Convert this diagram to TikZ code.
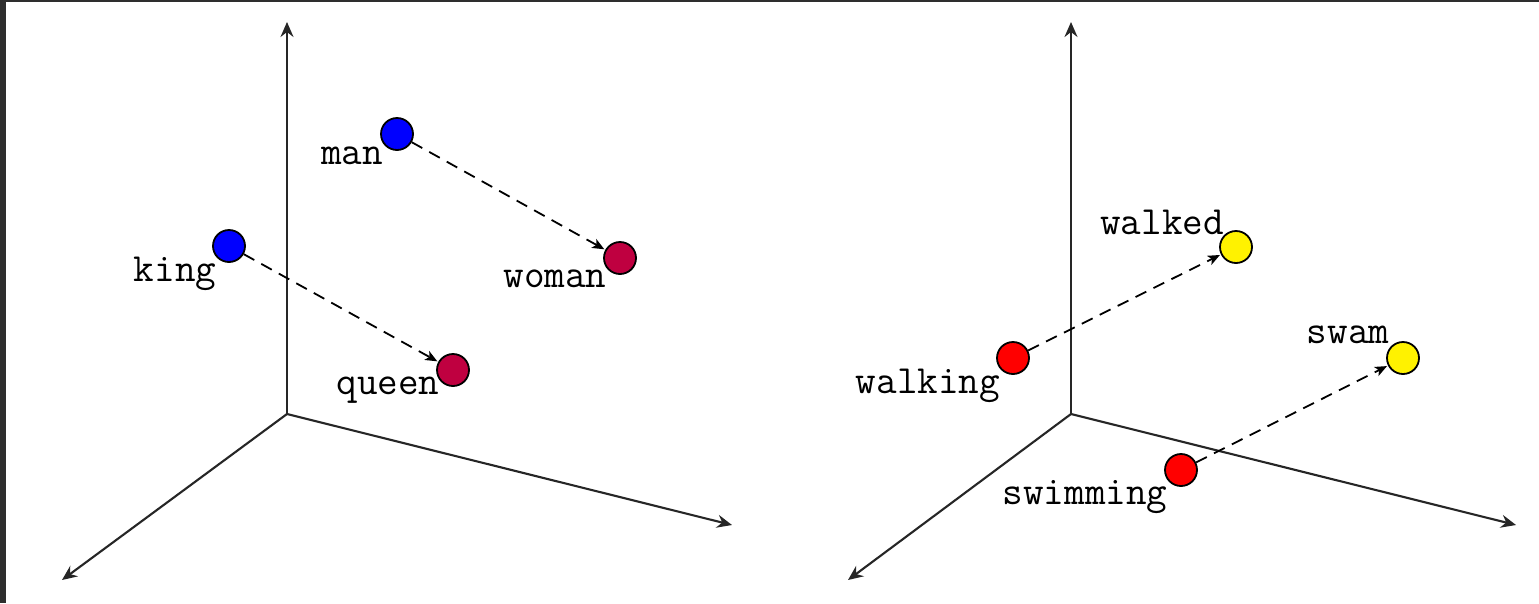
\documentclass[tikz,border=0pt]{standalone}
\usetikzlibrary{arrows.meta}
\begin{document}
\begin{tikzpicture}[x=1pt,y=-1pt,
  axis/.style={line width=2.1pt,draw=black!85,-{Stealth[length=15pt,width=13pt,inset=5pt]}},
  dot/.style={circle,draw=black,line width=1.8pt,minimum size=32pt,inner sep=0pt},
  lbl/.style={font=\fontsize{40}{42}\selectfont\ttfamily,inner sep=0pt},
  vec/.style={line width=1.8pt,dash pattern=on 12pt off 8pt,-{Stealth[length=12pt,width=10pt,inset=3pt]},shorten >=1pt}]
\fill[black!82] (0,0) rectangle (1539,603);
\fill[white] (6,2) rectangle (1539,603);
\useasboundingbox (0,0) rectangle (1539,603);
% left axes
\coordinate (O1) at (287,414);
\coordinate (Y1) at (287,22);
\coordinate (X1) at (62,580);
\coordinate (Z1) at (732,525);
\draw[axis] (O1) -- (Y1);
\draw[axis] (O1) -- (X1);
\draw[axis] (O1) -- (Z1);
% right axes
\coordinate (O2) at (1071,414);
\coordinate (Y2) at (1071,22);
\coordinate (X2) at (848,580);
\coordinate (Z2) at (1516,525);
\draw[axis] (O2) -- (Y2);
\draw[axis] (O2) -- (X2);
\draw[axis] (O2) -- (Z2);
% points
\node[dot,fill=blue] (king) at (229,246) {};
\node[dot,fill=blue] (man) at (397,134) {};
\node[dot,fill=purple] (woman) at (620,258) {};
\node[dot,fill=purple] (queen) at (453,370) {};
\node[dot,fill=red] (walking) at (1013,358) {};
\node[dot,fill=yellow] (walked) at (1236,247) {};
\node[dot,fill=red] (swimming) at (1181,470) {};
\node[dot,fill=yellow] (swam) at (1403,358) {};
% labels
\node[lbl] (lking) at (175,274) {king};
\node[lbl] (lman) at (352,156) {man};
\node[lbl] (lwoman) at (555,279) {woman};
\node[lbl] (lqueen) at (388,390) {queen};
\node[lbl] (lwalking) at (928,386) {walking};
\node[lbl] (lwalked) at (1162,222) {walked};
\node[lbl] (lswam) at (1348,335) {swam};
\node[lbl] (lswimming) at (1085,497) {swimming};
% vectors
\draw[vec] (king) -- (queen);
\draw[vec] (man) -- (woman);
\draw[vec] (walking) -- (walked);
\draw[vec] (swimming) -- (swam);
\end{tikzpicture}
\end{document}
